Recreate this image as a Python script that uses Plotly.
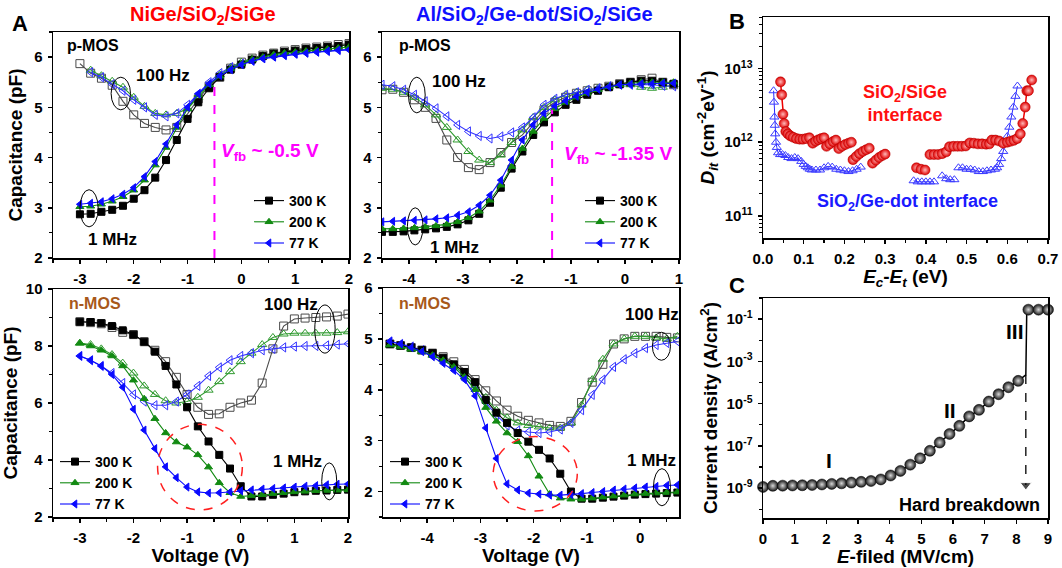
import plotly.graph_objects as go

# ================= DATA =================
# Panel A - x grids (V)
V_NIGE = [-3.0, -2.8, -2.6, -2.4, -2.2, -2.0, -1.8, -1.6, -1.4, -1.2, -1.0, -0.8, -0.6,
          -0.4, -0.2, 0.0, 0.2, 0.4, 0.6, 0.8, 1.0, 1.2, 1.4, 1.6, 1.8, 2.0]
V_GEDOT_P = [-4.5, -4.3, -4.1, -3.9, -3.7, -3.5, -3.3, -3.1, -2.9, -2.7, -2.5, -2.3, -2.1, -1.9,
             -1.7, -1.5, -1.3, -1.1, -0.9, -0.7, -0.5, -0.3, -0.1, 0.1, 0.3, 0.5, 0.7, 0.9]
V_GEDOT_N = [-4.7, -4.5, -4.3, -4.1, -3.9, -3.7, -3.5, -3.3, -3.1, -2.9, -2.7, -2.5, -2.3, -2.1,
             -1.9, -1.7, -1.5, -1.3, -1.1, -0.9, -0.7, -0.5, -0.3, -0.1, 0.1, 0.3, 0.5, 0.7]

# NiGe p-MOS (pF)
NIGE_P_1M_300 = [2.87, 2.88, 2.92, 2.96, 3.04, 3.18, 3.35, 3.6, 3.95, 4.35, 4.77, 5.1, 5.38, 5.6,
                 5.75, 5.85, 5.95, 6.02, 6.07, 6.1, 6.13, 6.16, 6.18, 6.2, 6.22, 6.25]
NIGE_P_1M_200 = [3.02, 3.03, 3.07, 3.13, 3.22, 3.35, 3.55, 3.85, 4.2, 4.6, 4.97, 5.25, 5.45, 5.62,
                 5.77, 5.87, 5.95, 6.0, 6.05, 6.08, 6.1, 6.12, 6.14, 6.16, 6.18, 6.2]
NIGE_P_1M_77 = [3.07, 3.09, 3.12, 3.18, 3.27, 3.4, 3.62, 3.92, 4.27, 4.65, 5.0, 5.27, 5.47, 5.63,
                5.75, 5.85, 5.92, 5.97, 6.0, 6.03, 6.06, 6.08, 6.1, 6.12, 6.14, 6.15]
NIGE_P_100_300 = [5.87, 5.68, 5.58, 5.44, 5.12, 4.85, 4.68, 4.6, 4.55, 4.6, 4.87, 5.17, 5.42, 5.6,
                  5.78, 5.9, 5.98, 6.04, 6.08, 6.12, 6.15, 6.18, 6.2, 6.22, 6.25, 6.27]
NIGE_P_100_200 = [None, 5.74, 5.63, 5.52, 5.4, 5.2, 5.02, 4.88, 4.85, 4.88, 4.97, 5.2, 5.45, 5.65,
                  5.8, 5.9, 5.97, 6.03, 6.07, 6.1, 6.13, 6.16, 6.18, 6.2, 6.22, 6.24]
NIGE_P_100_77 = [None, 5.7, 5.6, 5.46, 5.33, 5.15, 5.0, 4.85, 4.82, 4.88, 5.05, 5.27, 5.5, 5.68,
                 5.8, 5.87, 5.93, 5.98, 6.02, 6.05, 6.07, 6.09, 6.11, 6.12, 6.14, 6.15]

# Ge-dot p-MOS (pF)
GEDOT_P_1M_300 = [2.52, 2.52, 2.53, 2.55, 2.57, 2.59, 2.62, 2.67, 2.75, 2.88, 3.1, 3.4, 3.78, 4.12,
                  4.45, 4.7, 4.9, 5.05, 5.15, 5.25, 5.33, 5.4, 5.46, 5.5, 5.53, 5.53, 5.5, 5.47]
GEDOT_P_1M_200 = [2.58, 2.58, 2.59, 2.6, 2.62, 2.64, 2.67, 2.72, 2.8, 2.93, 3.15, 3.45, 3.82, 4.18,
                  4.52, 4.78, 4.97, 5.1, 5.2, 5.28, 5.35, 5.41, 5.45, 5.48, 5.5, 5.5, 5.5, 5.5]
GEDOT_P_1M_77 = [2.72, 2.73, 2.74, 2.75, 2.76, 2.78, 2.8, 2.85, 2.92, 3.05, 3.25, 3.55, 3.95, 4.35,
                 4.65, 4.88, 5.03, 5.13, 5.22, 5.3, 5.36, 5.41, 5.45, 5.46, 5.47, 5.47, 5.48, 5.48]
GEDOT_P_100_300 = [5.35, 5.36, 5.3, 5.15, 5.0, 4.78, 4.35, 4.0, 3.8, 3.76, 3.9, 4.1, 4.3, 4.45,
                   4.7, 4.95, 5.1, 5.2, 5.28, 5.33, 5.38, 5.42, 5.47, 5.5, 5.55, 5.58, 5.5, 5.45]
GEDOT_P_100_200 = [5.38, 5.36, 5.3, 5.2, 5.05, 4.85, 4.6, 4.35, 4.12, 3.95, 3.9, 4.05, 4.3, 4.55,
                   4.8, 5.0, 5.15, 5.25, 5.3, 5.35, 5.38, 5.42, 5.45, 5.45, 5.4, 5.38, 5.4, 5.45]
GEDOT_P_100_77 = [5.45, 5.42, 5.35, 5.25, 5.12, 4.98, 4.82, 4.65, 4.52, 4.43, 4.38, 4.42, 4.5, 4.6,
                  4.8, 5.05, 5.17, 5.25, 5.3, 5.35, 5.38, 5.42, 5.45, 5.45, 5.45, 5.45, 5.43, 5.42]

# NiGe n-MOS (pF)
NIGE_N_1M_300 = [8.85, 8.84, 8.8, 8.7, 8.55, 8.4, 8.15, 7.8, 7.3, 6.65, 5.85, 5.18, 4.65, 4.18,
                 3.7, 3.08, 2.72, 2.72, 2.78, 2.82, 2.87, 2.9, 2.92, 2.93, 2.95, 2.96]
NIGE_N_1M_200 = [8.1, 8.0, 7.85, 7.65, 7.3, 6.8, 6.15, 5.45, 4.95, 4.63, 4.45, 4.18, 3.75, 3.2,
                 2.85, 2.72, 2.75, 2.78, 2.82, 2.85, 2.88, 2.9, 2.92, 2.93, 2.94, 2.95]
NIGE_N_1M_77 = [7.65, 7.5, 7.3, 7.0, 6.55, 5.78, 5.05, 4.4, 3.76, 3.38, 3.05, 2.88, 2.84, 2.85,
                2.88, 2.92, 2.95, 2.98, 3.0, 3.02, 3.05, 3.08, 3.1, 3.13, 3.15, 3.16]
NIGE_N_100_300 = [8.85, 8.82, 8.78, 8.65, 8.48, 8.4, 8.15, 7.85, 7.45, 6.9, 6.3, 5.85, 5.6, 5.62,
                  5.85, 6.0, 6.1, 6.7, 7.9, 8.7, 8.95, 8.98, 9.0, 9.02, 9.05, 9.12]
NIGE_N_100_200 = [8.1, 8.05, 7.9, 7.7, 7.4, 7.05, 6.6, 6.3, 6.08, 6.0, 6.05, 6.2, 6.45, 6.75,
                  7.1, 7.45, 7.75, 8.05, 8.3, 8.42, 8.45, 8.45, 8.45, 8.45, 8.47, 8.5]
NIGE_N_100_77 = [7.65, 7.5, 7.3, 7.05, 6.7, 6.3, 6.05, 5.92, 5.92, 6.05, 6.3, 6.6, 6.95, 7.25,
                 7.5, 7.65, 7.75, 7.85, 7.9, 7.95, 7.98, 8.0, 8.0, 8.02, 8.05, 8.08]

# Ge-dot n-MOS (pF)
GEDOT_N_1M_300 = [4.9, 4.87, 4.83, 4.78, 4.72, 4.63, 4.5, 4.35, 4.15, 3.8, 3.55, 3.35, 3.15, 2.98,
                  2.82, 2.65, 2.35, 2.0, 1.86, 1.86, 1.88, 1.9, 1.92, 1.94, 1.95, 1.96, 1.97, 1.98]
GEDOT_N_1M_200 = [4.88, 4.85, 4.8, 4.75, 4.68, 4.58, 4.45, 4.25, 4.0, 3.65, 3.38, 3.15, 2.98, 2.7,
                  2.3, 1.95, 1.87, 1.85, 1.85, 1.87, 1.89, 1.91, 1.93, 1.95, 1.96, 1.97, 1.98, 1.99]
GEDOT_N_1M_77 = [4.95, 4.9, 4.83, 4.75, 4.65, 4.52, 4.38, 4.2, 3.88, 3.25, 2.65, 2.15, 2.03, 1.97,
                 1.95, 1.93, 1.93, 1.94, 1.96, 1.98, 2.0, 2.03, 2.05, 2.07, 2.09, 2.1, 2.12, 2.13]
GEDOT_N_100_300 = [4.9, 4.87, 4.83, 4.78, 4.72, 4.65, 4.55, 4.4, 4.2, 3.98, 3.78, 3.6, 3.48, 3.4,
                   3.35, 3.3, 3.28, 3.38, 3.75, 4.15, 4.5, 4.9, 5.0, 5.05, 5.05, 5.05, 5.03, 5.02]
GEDOT_N_100_200 = [4.88, 4.85, 4.8, 4.75, 4.68, 4.6, 4.48, 4.3, 4.08, 3.85, 3.6, 3.45, 3.35, 3.3,
                   3.27, 3.25, 3.25, 3.35, 3.7, 4.2, 4.6, 4.9, 5.0, 5.05, 5.05, 5.02, 5.0, 5.05]
GEDOT_N_100_77 = [4.95, 4.9, 4.85, 4.78, 4.7, 4.6, 4.45, 4.25, 4.02, 3.75, 3.5, 3.3, 3.2, 3.17,
                  3.15, 3.17, 3.22, 3.35, 3.6, 3.9, 4.2, 4.45, 4.6, 4.72, 4.82, 4.88, 4.92, 4.95]

VFB_NIGE = -0.5
VFB_NIGE_C = 5.55
VFB_GEDOT = -1.35
VFB_GEDOT_C = 4.95

# Panel B - Dit (cm^-2 eV^-1) vs Ec-Et (eV); None separates sweeps
B_RED_E = [0.043, 0.046, 0.049, 0.052, 0.056, 0.061, 0.067, 0.074, 0.082, 0.09, 0.098, 0.106, 0.114, None,
           0.122, 0.129, 0.136, 0.143, 0.15, None,
           0.156, 0.164, 0.172, 0.179, None,
           0.186, 0.194, 0.202, 0.21, 0.217, None,
           0.221, 0.229, 0.237, 0.245, 0.253, 0.261, None,
           0.269, 0.277, 0.285, 0.293, 0.3, None,
           0.377, 0.388, 0.398, None,
           0.41, 0.42, 0.43, 0.44, 0.45, None,
           0.458, 0.468, 0.478, 0.488, 0.498, None,
           0.508, 0.518, 0.528, 0.538, 0.548, 0.556, None,
           0.562, 0.571, 0.58, None,
           0.59, 0.6, 0.608, 0.616, 0.624, 0.632, 0.638, 0.644, 0.648, 0.652, 0.66]
B_RED_D = [6.6e12, 4.4e12, 2.4e12, 1.8e12, 1.4e12, 1.3e12, 1.22e12, 1.17e12, 1.12e12, 1.1e12, 1.1e12, 1.12e12, 1.15e12, None,
           0.97e12, 1.03e12, 1.08e12, 1.12e12, 1.15e12, None,
           0.88e12, 0.95e12, 1.02e12, 1.07e12, None,
           0.82e12, 0.88e12, 0.93e12, 0.97e12, 1.0e12, None,
           0.58e12, 0.64e12, 0.7e12, 0.75e12, 0.79e12, 0.83e12, None,
           0.52e12, 0.57e12, 0.62e12, 0.66e12, 0.69e12, None,
           0.45e12, 0.43e12, 0.42e12, None,
           0.68e12, 0.68e12, 0.68e12, 0.7e12, 0.74e12, None,
           0.87e12, 0.88e12, 0.88e12, 0.88e12, 0.89e12, None,
           0.98e12, 0.97e12, 0.95e12, 0.95e12, 0.94e12, 0.95e12, None,
           1.07e12, 1.07e12, 1.04e12, None,
           0.97e12, 1.0e12, 1.03e12, 1.06e12, 1.12e12, 1.3e12, 1.8e12, 3.0e12, 5.0e12, 5.0e12, 7.0e12]
B_BLUE_E = [0.026, 0.027, 0.028, 0.029, 0.03, 0.032, 0.034, 0.037, 0.042, 0.048,
            0.055, 0.062, 0.07, 0.078, 0.086, 0.094, 0.1, 0.105, 0.11, 0.115,
            0.12, 0.13, 0.14, 0.15, 0.16, 0.17, 0.18, 0.19, 0.2, 0.21,
            0.22, 0.23, 0.24, None,
            0.37, 0.38, 0.39, 0.4, 0.41, 0.42, None,
            0.44, 0.45, 0.46, 0.47, None,
            0.48, 0.49, 0.5, 0.51, 0.52, 0.53, 0.54, 0.55, 0.56, 0.57,
            0.575, 0.58, 0.585, 0.59, 0.595, 0.6, 0.605, 0.61, 0.615, 0.62, 0.625]
B_BLUE_D = [5.0e12, 3.5e12, 2.2e12, 1.7e12, 1.3e12, 1.0e12, 0.85e12, 0.72e12, 0.68e12, 0.68e12,
            0.66e12, 0.62e12, 0.6e12, 0.62e12, 0.6e12, 0.55e12, 0.5e12, 0.47e12, 0.45e12, 0.43e12,
            0.42e12, 0.42e12, 0.42e12, 0.45e12, 0.47e12, 0.46e12, 0.43e12, 0.42e12, 0.41e12, 0.4e12,
            0.41e12, 0.43e12, 0.46e12, None,
            0.3e12, 0.29e12, 0.29e12, 0.29e12, 0.29e12, 0.29e12, None,
            0.35e12, 0.32e12, 0.31e12, 0.31e12, None,
            0.45e12, 0.45e12, 0.43e12, 0.43e12, 0.42e12, 0.4e12, 0.4e12, 0.41e12, 0.42e12, 0.43e12,
            0.45e12, 0.5e12, 0.6e12, 0.75e12, 0.95e12, 1.2e12, 1.6e12, 2.2e12, 3.0e12, 4.2e12, 5.8e12]

# Panel C - J (A/cm^2) vs E-field (MV/cm)
C_E = [0.0, 0.31, 0.62, 0.93, 1.24, 1.55, 1.86, 2.17, 2.48, 2.79, 3.1, 3.41, 3.72, 4.03, 4.34,
       4.65, 4.96, 5.27, 5.58, 5.89, 6.2, 6.51, 6.82, 7.13, 7.44, 7.75, 8.06]
C_J = [1.15e-9, 1.3e-9, 1.32e-9, 1.35e-9, 1.38e-9, 1.42e-9, 1.5e-9, 1.6e-9, 1.7e-9, 1.85e-9,
       2.0e-9, 2.2e-9, 2.6e-9, 4.0e-9, 6.6e-9, 1.3e-8, 2.6e-8, 5.9e-8, 1.45e-7, 3.7e-7, 8.9e-7,
       2.5e-6, 5.1e-6, 1.26e-5, 2.8e-5, 6.0e-5, 1.2e-4]
C_KNEE_E = [8.06, 8.3, 8.33, 8.38]
C_KNEE_J = [1.2e-4, 2.3e-4, 0.28, 0.28]
C_BD_E = [8.38, 8.7, 9.0]
C_BD_J = [0.28, 0.28, 0.28]
C_ARROW_E = [8.3, 8.3]
C_ARROW_J = [2.3e-4, 1.4e-9]

# Tick labels
TICK_NIGE_V = [-3, -2, -1, 0, 1, 2]
TICK_NIGE_T = ['-3', '-2', '-1', '0', '1', '2']
TICK_GEDOT_V = [-4, -3, -2, -1, 0, 1]
TICK_GEDOT_T = ['-4', '-3', '-2', '-1', '0', '1']
TICK_B_Y_V = [1e11, 1e12, 1e13]
TICK_B_Y_T = ['10<sup>11</sup>', '10<sup>12</sup>', '10<sup>13</sup>']
TICK_C_Y_V = [1e-9, 1e-7, 1e-5, 1e-3, 1e-1]
TICK_C_Y_T = ['10<sup>-9</sup>', '10<sup>-7</sup>', '10<sup>-5</sup>', '10<sup>-3</sup>', '10<sup>-1</sup>']

# ================= STYLE =================
W, H = 1062, 568
FONT = 'Liberation Sans, Arial, sans-serif'
BLACK, GREEN, BLUE = '#000000', '#128a12', '#0a0aff'
OPEN_COL = {'300': '#4a4a4a', '200': '#2f9a2f', '77': '#3333ff'}
SOLID_COL = {'300': BLACK, '200': GREEN, '77': BLUE}
SYM = {'300': 'square', '200': 'triangle-up', '77': 'triangle-left'}
MAGENTA = '#ff00ff'
BROWN = '#a8581a'


def px_x(p):
    return p / W


def px_y(p):
    return 1 - p / H


fig = go.Figure()


def add_cv(x, y, ax, temp, open_, legend=None):
    col = OPEN_COL[temp] if open_ else SOLID_COL[temp]
    sym = SYM[temp] + ('-open' if open_ else '')
    fig.add_trace(go.Scatter(
        x=x, y=y, xaxis='x' + ax, yaxis='y' + ax, mode='lines+markers',
        line=dict(color=col, width=1.1),
        marker=dict(symbol=sym, size=8 if open_ else 7, color=col,
                    line=dict(width=1, color=col)),
        name=temp + ' K', showlegend=legend is not None,
        legend=legend if legend else 'legend', connectgaps=False, hoverinfo='skip'))


panels = [
    ('', V_NIGE, [NIGE_P_100_300, NIGE_P_100_200, NIGE_P_100_77],
     [NIGE_P_1M_300, NIGE_P_1M_200, NIGE_P_1M_77], 'legend'),
    ('2', V_GEDOT_P, [GEDOT_P_100_300, GEDOT_P_100_200, GEDOT_P_100_77],
     [GEDOT_P_1M_300, GEDOT_P_1M_200, GEDOT_P_1M_77], 'legend2'),
    ('3', V_NIGE, [NIGE_N_100_300, NIGE_N_100_200, NIGE_N_100_77],
     [NIGE_N_1M_300, NIGE_N_1M_200, NIGE_N_1M_77], 'legend3'),
    ('4', V_GEDOT_N, [GEDOT_N_100_300, GEDOT_N_100_200, GEDOT_N_100_77],
     [GEDOT_N_1M_300, GEDOT_N_1M_200, GEDOT_N_1M_77], 'legend4'),
]
for ax, xv, opens, solids, lg in panels:
    for temp, yv in zip(['300', '200', '77'], opens):
        add_cv(xv, yv, ax, temp, True)
    for temp, yv in zip(['300', '200', '77'], solids):
        add_cv(xv, yv, ax, temp, False, legend=lg)

# Panel B
fig.add_trace(go.Scatter(
    x=B_BLUE_E, y=B_BLUE_D, xaxis='x5', yaxis='y5', mode='lines+markers',
    line=dict(color='#2a2aff', width=1),
    marker=dict(symbol='triangle-up-open', size=8, color='#3b3bff', line=dict(width=1)),
    showlegend=False, connectgaps=False, hoverinfo='skip'))
fig.add_trace(go.Scatter(
    x=B_RED_E, y=B_RED_D, xaxis='x5', yaxis='y5', mode='lines+markers',
    line=dict(color='#ee0000', width=1.5),
    marker=dict(symbol='circle', size=10, color='#e00000',
                gradient=dict(type='radial', color='#ffb8b8'),
                line=dict(width=0.5, color='#b00000')),
    showlegend=False, connectgaps=False, hoverinfo='skip'))

# Panel C
fig.add_trace(go.Scatter(
    x=C_ARROW_E, y=C_ARROW_J, xaxis='x6', yaxis='y6', mode='lines+markers',
    line=dict(color='black', width=1.3, dash='dash'),
    marker=dict(symbol='triangle-down', size=[0, 10], color='black'),
    showlegend=False, hoverinfo='skip'))
fig.add_trace(go.Scatter(
    x=C_KNEE_E, y=C_KNEE_J, xaxis='x6', yaxis='y6', mode='lines',
    line=dict(color='black', width=1.5), showlegend=False, hoverinfo='skip'))
for xs, ys in [(C_E, C_J), (C_BD_E, C_BD_J)]:
    fig.add_trace(go.Scatter(
        x=xs, y=ys, xaxis='x6', yaxis='y6', mode='lines+markers',
        line=dict(color='black', width=1.5),
        marker=dict(symbol='circle', size=11, color='#151515',
                    gradient=dict(type='radial', color='#d8d8d8'),
                    line=dict(width=0.5, color='black')),
        showlegend=False, hoverinfo='skip', cliponaxis=False))

# ================= AXES =================
TICKFONT = dict(family=FONT, size=15, color='black', weight='bold')
TITLEFONT = dict(family=FONT, size=19, color='black', weight='bold')


def axis(**kw):
    d = dict(showline=True, linecolor='black', linewidth=1.5, mirror=True,
             ticks='outside', ticklen=4, tickwidth=1.5, tickcolor='black',
             showgrid=False, zeroline=False, tickfont=TICKFONT, fixedrange=True,
             automargin=False, ticklabelstandoff=2)
    d.update(kw)
    return d


def minor(dt):
    return dict(tickmode='linear', tick0=0, dtick=dt, ticks='outside', ticklen=3,
                tickwidth=1.2, tickcolor='black')


layout = dict(
    width=W, height=H, margin=dict(l=0, r=0, t=0, b=0, autoexpand=False),
    paper_bgcolor='white', plot_bgcolor='white', font=dict(family=FONT, color='black'),
    xaxis=axis(domain=[px_x(53), px_x(349)], range=[-3.5, 2], tickmode='array',
               tickvals=TICK_NIGE_V, ticktext=TICK_NIGE_T, minor=minor(0.5), anchor='y'),
    yaxis=axis(domain=[px_y(258), px_y(32)], range=[2, 6.5], dtick=1, minor=minor(0.5),
               anchor='x', title=dict(text='Capacitance (pF)', font=TITLEFONT, standoff=6)),
    xaxis2=axis(domain=[px_x(382), px_x(679)], range=[-4.5, 1], tickmode='array',
                tickvals=TICK_GEDOT_V, ticktext=TICK_GEDOT_T, minor=minor(0.5), anchor='y2'),
    yaxis2=axis(domain=[px_y(258), px_y(32)], range=[2, 6.5], dtick=1, minor=minor(0.5),
                anchor='x2'),
    xaxis3=axis(domain=[px_x(53), px_x(348)], range=[-3.5, 2], tickmode='array',
                tickvals=TICK_NIGE_V, ticktext=TICK_NIGE_T, minor=minor(0.5), anchor='y3',
                title=dict(text='Voltage (V)', font=TITLEFONT, standoff=4)),
    yaxis3=axis(domain=[px_y(517), px_y(289)], range=[2, 10], dtick=2, minor=minor(1),
                anchor='x3', title=dict(text='Capacitance (pF)', font=TITLEFONT, standoff=6)),
    xaxis4=axis(domain=[px_x(383), px_x(679)], range=[-4.83, 0.73], tickmode='array',
                tickvals=TICK_GEDOT_V[:-1], ticktext=TICK_GEDOT_T[:-1], minor=minor(0.5),
                anchor='y4', title=dict(text='Voltage (V)', font=TITLEFONT, standoff=4)),
    yaxis4=axis(domain=[px_y(517), px_y(288)], range=[1.5, 6], dtick=1, minor=minor(0.5),
                anchor='x4'),
    xaxis5=axis(domain=[px_x(763), px_x(1048)], range=[0, 0.7], dtick=0.1, tickformat='.1f',
                minor=minor(0.05), anchor='y5',
                title=dict(text='<i>E</i><sub><i>c</i></sub>-<i>E</i><sub><i>t</i></sub> (eV)',
                           font=TITLEFONT, standoff=2)),
    yaxis5=axis(domain=[px_y(238), px_y(17)], type='log', range=[10.7, 13.7],
                tickmode='array', tickvals=TICK_B_Y_V, ticktext=TICK_B_Y_T,
                minor=dict(tickmode='array',
                           tickvals=[m * 10 ** e for e in (10, 11, 12, 13) for m in range(2, 10)],
                           ticks='outside', ticklen=3, tickwidth=1, tickcolor='black'),
                anchor='x5',
                title=dict(text='<i>D</i><sub><i>it</i></sub> (cm<sup>-2</sup>eV<sup>-1</sup>)',
                           font=TITLEFONT, standoff=4)),
    xaxis6=axis(domain=[px_x(763), px_x(1048)], range=[0, 9], dtick=1, anchor='y6',
                title=dict(text='<i>E</i>-filed (MV/cm)', font=TITLEFONT, standoff=4)),
    yaxis6=axis(domain=[px_y(518), px_y(298)], type='log', range=[-10.41, 0],
                tickmode='array', tickvals=TICK_C_Y_V, ticktext=TICK_C_Y_T,
                minor=dict(tickmode='array', tickvals=[10.0 ** e for e in range(-10, 1)],
                           ticks='outside', ticklen=3, tickwidth=1.2, tickcolor='black'),
                anchor='x6',
                title=dict(text='Current density (A/cm<sup>2</sup>)', font=TITLEFONT, standoff=4)),
)

LEGFONT = dict(family=FONT, size=14, color='black', weight='bold')
for name, x0, ytop in [('legend', 249, 185), ('legend2', 580, 185),
                       ('legend3', 55, 446), ('legend4', 385, 446)]:
    layout[name] = dict(x=px_x(x0), y=px_y(ytop), xanchor='left', yanchor='top',
                        bgcolor='rgba(0,0,0,0)', font=LEGFONT, tracegroupgap=0,
                        itemwidth=30, traceorder='normal')

fig.update_layout(**layout)

# ================= SHAPES =================
shapes = []


def ellipse(ax, x0, x1, y0, y1, color='black', dash='solid', width=1):
    shapes.append(dict(type='circle', xref='x' + ax, yref='y' + ax, x0=x0, x1=x1, y0=y0, y1=y1,
                       line=dict(color=color, width=width, dash=dash)))


ellipse('', -2.42, -2.06, 4.95, 5.6)
ellipse('', -3.0, -2.66, 2.62, 3.36)
ellipse('2', -4.01, -3.7, 4.89, 5.6)
ellipse('2', -4.03, -3.74, 2.26, 3.0)
ellipse('3', 1.38, 1.76, 7.75, 9.44)
ellipse('3', 1.51, 1.79, 2.6, 3.9)
ellipse('4', 0.23, 0.57, 4.58, 5.13)
ellipse('4', 0.25, 0.57, 1.72, 2.45)
ellipse('3', -1.55, 0.03, 2.25, 5.25, color='#ff2020', dash='dash', width=1.5)
ellipse('4', -2.76, -1.18, 1.62, 3.08, color='#ff2020', dash='dash', width=1.5)

shapes.append(dict(type='line', xref='x', yref='y', x0=VFB_NIGE, x1=VFB_NIGE, y0=2, y1=VFB_NIGE_C,
                   line=dict(color=MAGENTA, width=2, dash='dash')))
shapes.append(dict(type='line', xref='x2', yref='y2', x0=VFB_GEDOT, x1=VFB_GEDOT, y0=2,
                   y1=VFB_GEDOT_C, line=dict(color=MAGENTA, width=2, dash='dash')))
fig.update_layout(shapes=shapes)

# ================= ANNOTATIONS =================
ann = []


def txt(text, x, y, xref='paper', yref='paper', size=15, color='black', xanchor='left',
        yanchor='middle', align='left'):
    ann.append(dict(text=text, x=x, y=y, xref=xref, yref=yref, showarrow=False,
                    font=dict(family=FONT, size=size, color=color),
                    xanchor=xanchor, yanchor=yanchor, align=align))


# panel letters & titles
txt('<b>A</b>', px_x(20), px_y(23), size=22, xanchor='center')
txt('<b>B</b>', px_x(737), px_y(22), size=22, xanchor='center')
txt('<b>C</b>', px_x(737), px_y(285), size=22, xanchor='center')
txt('<b>NiGe/SiO<sub>2</sub>/SiGe</b>', px_x(203), px_y(16), size=20, color='#ff0000',
    xanchor='center')
txt('<b>Al/SiO<sub>2</sub>/Ge-dot/SiO<sub>2</sub>/SiGe</b>', px_x(534), px_y(16), size=20,
    color='#1010ff', xanchor='center')

# top-left
txt('<b>p-MOS</b>', -3.27, 6.24, 'x', 'y', size=16)
txt('<b>100 Hz</b>', -2.0, 5.64, 'x', 'y', size=17)
txt('<b>1 MHz</b>', -2.89, 2.36, 'x', 'y', size=17)
txt('<b><i>V</i><sub>fb</sub> ~ %s V</b>' % VFB_NIGE, -0.42, 4.11, 'x', 'y', size=19,
    color=MAGENTA)
# top-middle
txt('<b>p-MOS</b>', -4.22, 6.24, 'x2', 'y2', size=16)
txt('<b>100 Hz</b>', -3.61, 5.52, 'x2', 'y2', size=17)
txt('<b>1 MHz</b>', -3.64, 2.2, 'x2', 'y2', size=17)
txt('<b><i>V</i><sub>fb</sub> ~ %s V</b>' % VFB_GEDOT, -1.17, 4.05, 'x2', 'y2', size=19,
    color=MAGENTA)
# bottom-left
txt('<b>n-MOS</b>', -3.23, 9.5, 'x3', 'y3', size=16, color=BROWN)
txt('<b>100 Hz</b>', 0.4, 9.44, 'x3', 'y3', size=17)
txt('<b>1 MHz</b>', 0.57, 3.93, 'x3', 'y3', size=17)
# bottom-middle
txt('<b>n-MOS</b>', -4.56, 5.7, 'x4', 'y4', size=16, color=BROWN)
txt('<b>100 Hz</b>', -0.33, 5.47, 'x4', 'y4', size=17)
txt('<b>1 MHz</b>', -0.28, 2.61, 'x4', 'y4', size=17)
# panel B
txt('<b>SiO<sub>2</sub>/SiGe<br>interface</b>', 0.349, 12.53, 'x5', 'y5', size=18,
    color='#ff1010', xanchor='center', align='center')
txt('<b>SiO<sub>2</sub>/Ge-dot interface</b>', 0.354, 11.18, 'x5', 'y5', size=18,
    color='#1a1aff', xanchor='center')
# panel C
txt('<b>I</b>', 2.08, -7.67, 'x6', 'y6', size=21, xanchor='center')
txt('<b>II</b>', 5.9, -5.3, 'x6', 'y6', size=21, xanchor='center')
txt('<b>III</b>', 7.95, -1.6, 'x6', 'y6', size=21, xanchor='center')
txt('<b>Hard breakdown</b>', 6.51, -9.8, 'x6', 'y6', size=18, xanchor='center')

fig.update_layout(annotations=ann)

fig.write_html('out.html', config={'staticPlot': True},
               post_script="document.body.style.margin='0';document.body.style.padding='0';")
